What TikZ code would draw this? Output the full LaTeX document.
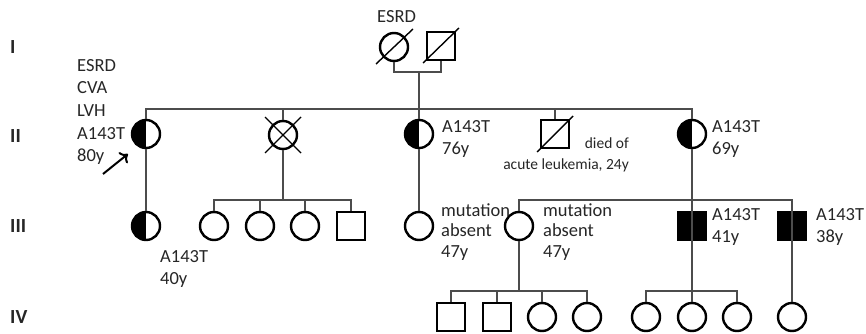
\documentclass[tikz,border=0pt]{standalone}
\usepackage{fontspec}
\setmainfont{Carlito}
\usetikzlibrary{arrows.meta}
\begin{document}
\begin{tikzpicture}[x=1pt, y=-1pt,
  fem/.style={circle, draw, line width=2.4pt, minimum size=28pt, inner sep=0pt},
  mal/.style={rectangle, draw, line width=2.4pt, minimum size=28pt, inner sep=0pt},
  carrier/.style={path picture={\fill (path picture bounding box.south west) rectangle (path picture bounding box.north);}},
  affected/.style={fill=black},
  slash/.style={line width=1.4pt},
  link/.style={line width=1.3pt, black!70},
  lab/.style={font=\fontsize{18.5}{22.6}\selectfont, text=black!85, align=left, anchor=west, inner sep=0pt},
  small/.style={font=\fontsize{18.5}{20.5}\selectfont, text=black!85, align=left, anchor=west, inner sep=0pt},
  note/.style={font=\fontsize{15.5}{20.5}\selectfont, text=black!85, align=right, anchor=east, inner sep=0pt},
  gen/.style={font=\fontsize{20}{22}\selectfont\bfseries, text=black!85, anchor=west, inner sep=0pt}]
\useasboundingbox (0,0) rectangle (866,334);
\node[gen] (gI) at (10,47) {I};
\node[gen] (gII) at (10,136) {II};
\node[gen] (gIII) at (10,226) {III};
\node[gen] (gIV) at (10,317) {IV};
\node[fem] (g1f) at (394,47) {};
\node[mal] (g1m) at (441,46) {};
\node[fem, carrier] (g2a) at (146,134) {};
\node[fem] (g2b) at (283,135) {};
\node[fem, carrier] (g2c) at (419,134) {};
\node[mal] (g2d) at (555,134) {};
\node[fem, carrier] (g2e) at (692,134) {};
\node[fem, carrier] (g3a) at (146,226) {};
\node[fem] (g3b) at (214,226) {};
\node[fem] (g3c) at (260,226) {};
\node[fem] (g3d) at (305,226) {};
\node[mal] (g3e) at (351,226) {};
\node[fem] (g3f) at (419,226) {};
\node[fem] (g3g) at (519,226) {};
\node[mal, affected] (g3h) at (692,226) {};
\node[mal, affected] (g3i) at (792,226) {};
\node[mal] (g4a) at (451,317) {};
\node[mal] (g4b) at (497,317) {};
\node[fem] (g4c) at (542,317) {};
\node[fem] (g4d) at (587,317) {};
\node[fem] (g4e) at (646,317) {};
\node[fem] (g4f) at (692,317) {};
\node[fem] (g4g) at (737,317) {};
\node[fem] (g4h) at (792,317) {};
\coordinate (u1) at (419,72);
\coordinate (s2) at (419,109);
\coordinate (s3b) at (283,200);
\coordinate (s3e) at (692,200);
\coordinate (s4g) at (519,291);
\coordinate (s4f) at (692,291);
\draw[link] (g1f.south) |- (u1) -| (g1m.south);
\draw[link] (u1) -- (s2);
\draw[link] (g2a.north) |- (s2) -| (g2e.north);
\draw[link] (g2b.north) -- (g2b.north |- s2);
\draw[link] (g2d.north) -- (g2d.north |- s2);
\draw[link] (s2) -- (g2c.north);
\draw[link] (g2a.south) -- (g3a.north);
\draw[link] (g2b.south) -- (s3b);
\draw[link] (g3b.north) |- (s3b) -| (g3e.north);
\draw[link] (g3c.north) -- (g3c.north |- s3b);
\draw[link] (g3d.north) -- (g3d.north |- s3b);
\draw[link] (g2c.south) -- (g3f.north);
\draw[link] (g3g.north) |- (s3e) -| (g3i.north);
\draw[link] (g2e.south) -- (g4f.north);
\draw[link] (g3i.north) -- (g4h.north);
\draw[link] (g3g.south) -- (s4g);
\draw[link] (g4a.north) |- (s4g) -| (g4d.north);
\draw[link] (g4b.north) -- (g4b.north |- s4g);
\draw[link] (g4c.north) -- (g4c.north |- s4g);
\draw[link] (g4e.north) |- (s4f) -| (g4g.north);
\draw[slash] ([shift={(-18,17)}]g1f.center) -- ([shift={(19,-18)}]g1f.center);
\draw[slash] ([shift={(-18,17)}]g1m.center) -- ([shift={(18,-18)}]g1m.center);
\draw[slash] ([shift={(-18,18)}]g2b.center) -- ([shift={(18,-18)}]g2b.center);
\draw[slash] ([shift={(-18,-18)}]g2b.center) -- ([shift={(18,18)}]g2b.center);
\draw[slash] ([shift={(-18,18)}]g2d.center) -- ([shift={(18,-18)}]g2d.center);
\coordinate (pa) at (103,174);
\draw[line width=2pt, -{To[length=7pt, width=14pt]}, shorten >=12pt] (pa) -- (g2a.235);
\node[lab] (t1) at (377,17) {ESRD};
\node[lab] (t2) at (77,112) {ESRD\\CVA\\LVH\\A143T\\80y};
\node[lab] (t3) at (442,139) {A143T\\76y};
\node[note] (t4) at (629,155) {died of\\acute leukemia, 24y};
\node[lab] (t5) at (712,139) {A143T\\69y};
\node[lab] (t6) at (160,269) {A143T\\40y};
\node[small] (t7) at (441,232) {mutation\\absent\\47y};
\node[small] (t8) at (543,232) {mutation\\absent\\47y};
\node[lab] (t9) at (712,227) {A143T\\41y};
\node[lab] (t10) at (816,227) {A143T\\38y};
\end{tikzpicture}
\end{document}
